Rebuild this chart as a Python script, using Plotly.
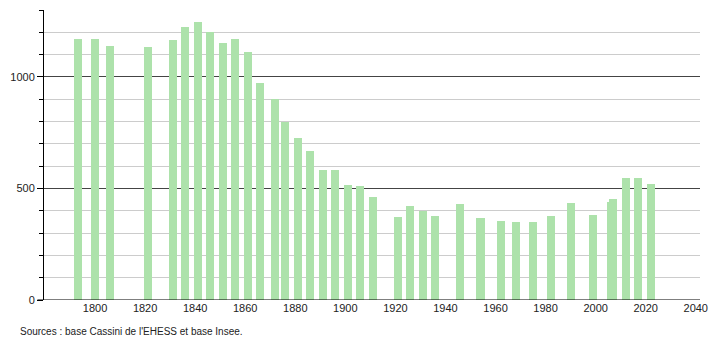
import plotly.graph_objects as go

years = [1793, 1800, 1806, 1821, 1831, 1836, 1841, 1846, 1851, 1856,
         1861, 1866, 1872, 1876, 1881, 1886, 1891, 1896, 1901, 1906,
         1911, 1921, 1926, 1931, 1936, 1946, 1954, 1962, 1968, 1975,
         1982, 1990, 1999, 2006, 2007, 2012, 2017, 2022]
population = [1171, 1171, 1139, 1135, 1167, 1224, 1247, 1202, 1152, 1169,
              1111, 973, 901, 798, 727, 669, 584, 584, 516, 510,
              462, 373, 421, 398, 376, 431, 368, 355, 350, 350,
              377, 436, 382, 441, 453, 548, 548, 521]
x_ticks = list(range(1800, 2041, 20))
y_ticks = [0, 500, 1000]
source_text = "Sources : base Cassini de l'EHESS et base Insee."

fig = go.Figure()
fig.add_trace(go.Bar(
    x=years, y=population, width=3.2,
    marker=dict(color="#ade2ab", line=dict(width=0)),
    showlegend=False, hoverinfo="x+y",
))

font = dict(family="Liberation Sans, Arial, sans-serif", size=11, color="#222")

fig.update_layout(
    width=710, height=340,
    margin=dict(l=44, r=10, t=10, b=40, autoexpand=False),
    paper_bgcolor="white", plot_bgcolor="white",
    font=font,
    bargap=0,
    xaxis=dict(
        range=[1779.6, 2041.7], automargin=False,
        tickmode="array", tickvals=x_ticks, ticktext=[str(v) for v in x_ticks],
        showgrid=False, zeroline=False, ticks="", ticklen=0,
        showline=False, tickfont=font, fixedrange=True,
    ),
    yaxis=dict(
        range=[0, 1300], automargin=False,
        tickmode="array", tickvals=y_ticks,
        showgrid=True, gridcolor="#444", gridwidth=1,
        zeroline=False, showline=True, linecolor="black", linewidth=1,
        ticks="outside", ticklen=6, tickcolor="black",
        tickfont=font, fixedrange=True,
        minor=dict(dtick=100, tick0=0, showgrid=True, gridcolor="#cccccc",
                   gridwidth=1, ticks="outside", ticklen=4, tickcolor="black"),
    ),
)

# x axis baseline
fig.add_shape(type="line", xref="paper", yref="y", x0=-0.01, x1=1, y0=0, y1=0,
              line=dict(color="black", width=1.2), layer="above")

fig.add_annotation(text=source_text, xref="paper", yref="paper",
                   x=-0.04, y=-0.083, xanchor="left", yanchor="top",
                   showarrow=False,
                   font=dict(family="Liberation Sans, Arial, sans-serif", size=10, color="#222"))

fig.write_html("out.html")
